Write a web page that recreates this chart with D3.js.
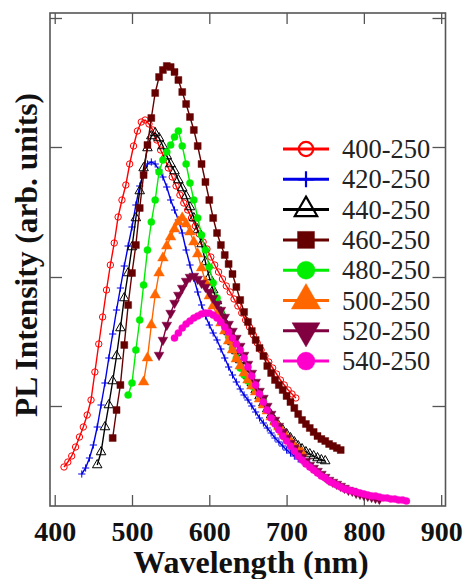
<!DOCTYPE html>
<html>
<head>
<meta charset="utf-8">
<script src="https://cdn.jsdelivr.net/npm/d3@7"></script>
<style>
  body { margin: 0; background: #fff; }
  svg { display: block; }
</style>
</head>
<body>
<svg id="chart" width="467" height="579"></svg>
<script>
// excitation-emission labels, one series per label
const seriesNames = ['400-250', '420-250', '440-250', '460-250', '480-250', '500-250', '520-250', '540-250']
const seriesColors = ['#ff0000', '#0000e6', '#000000', '#660000', '#00ee00', '#ff6600', '#800040', '#ff00cc']
const seriesMarkers = ['circleOpen', 'plus', 'triangleOpen', 'square', 'circle', 'triangle', 'triangleDown', 'circle']
// first wavelength of each scan (nm), sampled every 5 nm
const seriesStart = [412, 435, 455, 475, 495, 515, 535, 555]
const wlStep = 5

// PL intensity (arb. units)
const pl400 = [39, 44, 50, 59, 69, 79, 91, 106, 134, 162, 189, 216, 241, 263, 289, 306, 321, 342, 360, 375,
  384, 386, 382, 376, 366, 356, 348, 338, 329, 320, 311, 303, 296, 288, 280, 272, 264, 257, 249, 241,
  234, 227, 220, 214, 207, 200, 193, 186, 179, 171, 163, 156, 150, 144, 138, 132, 126, 121, 116, 112, 108]
const pl420 = [32, 38, 48, 61, 79, 101, 123, 148, 172, 196, 218, 240, 260, 279, 301, 320, 333, 342, 344, 342,
  336, 329, 319, 306, 296, 286, 273, 256, 241, 228, 214, 201, 190, 181, 173, 166, 157, 148, 139, 131,
  124, 117, 111, 106, 100, 94, 88, 83, 78, 73, 68, 64, 60, 56, 53, 50, 47, 45, 43, 42]
const pl440 = [41, 54, 79, 101, 125, 150, 178, 208, 233, 259, 288, 315, 338, 358, 370, 373, 368, 360, 350, 342,
  335, 326, 318, 310, 299, 288, 276, 262, 244, 229, 216, 205, 194, 184, 174, 164, 155, 146, 138, 130,
  123, 116, 110, 103, 97, 91, 85, 80, 76, 72, 68, 64, 60, 57, 54, 52, 50, 48, 46, 45]
const pl460 = [68, 96, 121, 161, 201, 233, 261, 298, 331, 361, 388, 413, 429, 436, 440, 439, 434, 426, 414, 402,
  389, 376, 360, 342, 324, 306, 288, 273, 261, 251, 242, 232, 219, 206, 194, 184, 175, 166, 158, 150,
  140, 133, 126, 121, 116, 110, 104, 98, 92, 86, 82, 78, 74, 70, 67, 65, 62, 60, 58, 56]
const pl480 = [111, 123, 156, 186, 221, 256, 284, 306, 334, 346, 354, 361, 369, 375, 360, 342, 323, 306, 288, 271,
  256, 239, 223, 208, 194, 181, 169, 158, 148, 138, 131, 125, 120, 115, 111, 106]
const pl500 = [124, 148, 181, 211, 233, 248, 260, 269, 277, 284, 288, 282, 274, 264, 252, 238, 224, 210, 200, 191,
  183, 175, 165, 156, 147, 140, 133, 126, 120, 114, 107, 101, 95, 89, 84, 79, 74, 69, 65, 60, 56, 53]
const pl520 = [151, 166, 181, 193, 203, 211, 218, 225, 229, 230, 227, 223, 219, 214, 208, 202, 196, 189, 182, 175,
  168, 160, 151, 142, 133, 124, 115, 108, 100, 92, 86, 80, 74, 68, 63, 58, 53, 49, 45, 41,
  38, 35, 32, 29, 26, 24, 22, 20, 18, 16, 15, 13, 12, 11, 10, 9, 8, 7]
const pl540 = [168, 173, 178, 182, 185, 188, 190, 192, 193, 193, 191, 188, 184, 179, 174, 168, 162, 156, 148, 139,
  130, 121, 112, 104, 96, 88, 82, 76, 70, 65, 60, 55, 50, 46, 42, 39, 36, 33, 30, 28,
  25, 23, 21, 19, 17, 16, 15, 14, 13, 12, 11, 10, 10, 9, 8, 8, 7, 7, 6, 6, 5]

const xTicks = [400, 500, 600, 700, 800, 900]
const yTicks = [100, 229, 359, 488]

const allValues = [pl400, pl420, pl440, pl460, pl480, pl500, pl520, pl540]

const width = 467
const height = 579
const margin = { top: 13, right: 21.5, bottom: 73, left: 50 }
const serif = '"Liberation Serif", "Times New Roman", serif'
const frameColor = '#555'

const series = allValues.map((vals, k) => ({
  name: seriesNames[k],
  color: seriesColors[k],
  marker: seriesMarkers[k],
  points: vals.map((v, i) => ({ wl: seriesStart[k] + i * wlStep, v }))
}))

const svg = d3.select('#chart')

const x = d3.scaleLinear()
  .domain([393.9, 905.6])
  .range([margin.left, width - margin.right])

const y = d3.scaleLinear()
  .domain([0, 493])
  .range([height - margin.bottom, margin.top])

// marker shapes, s = rough size in px
function markerPath (kind, s) {
  if (kind === 'plus') return `M${-s},0H${s}M0,${-s}V${s}`
  if (kind === 'square') return d3.symbol(d3.symbolSquare, s * s * 4)()
  if (kind === 'triangle' || kind === 'triangleOpen' || kind === 'triangleDown') {
    return d3.symbol(d3.symbolTriangle, s * s * 3.4)()
  }
  return d3.symbol(d3.symbolCircle, Math.PI * s * s)()
}

function drawMarker (sel, kind, color, s, sw) {
  const open = kind === 'circleOpen' || kind === 'triangleOpen' || kind === 'plus'
  sel.append('path')
    .attr('d', markerPath(kind, s))
    .attr('transform', kind === 'triangleDown' ? 'rotate(180)' : null)
    .attr('fill', open ? 'none' : color)
    .attr('stroke', color)
    .attr('stroke-width', open ? sw : 0.4)
}

function styleTicks (g) {
  g.select('.domain').remove()
  g.selectAll('line').attr('stroke', frameColor).attr('stroke-width', 1.3)
}

// ticks (inside the frame on all four sides)
svg.append('g')
  .attr('transform', `translate(0,${height - margin.bottom})`)
  .call(d3.axisBottom(x).tickValues(xTicks).tickSize(-11).tickPadding(15).tickFormat(d3.format('d')))
  .call(styleTicks)
  .attr('font-family', serif)
  .attr('font-size', 28)
  .attr('font-weight', 'bold')
  .call(g => g.selectAll('text').attr('fill', '#111'))

svg.append('g')
  .attr('transform', `translate(0,${margin.top})`)
  .call(d3.axisTop(x).tickValues(xTicks).tickSize(-11).tickFormat(''))
  .call(styleTicks)

svg.append('g')
  .attr('transform', `translate(${margin.left},0)`)
  .call(d3.axisLeft(y).tickValues(yTicks).tickSize(-12).tickFormat(''))
  .call(styleTicks)

svg.append('g')
  .attr('transform', `translate(${width - margin.right},0)`)
  .call(d3.axisRight(y).tickValues(yTicks).tickSize(-13).tickFormat(''))
  .call(styleTicks)

// frame
svg.append('rect')
  .attr('x', margin.left)
  .attr('y', margin.top)
  .attr('width', width - margin.left - margin.right)
  .attr('height', height - margin.top - margin.bottom)
  .attr('fill', 'none')
  .attr('stroke', frameColor)
  .attr('stroke-width', 1.6)

// curves
const line = d3.line()
  .x(d => x(d.wl))
  .y(d => y(d.v))

const curveSize = { circleOpen: 3.2, plus: 3.6, triangleOpen: 3.4, square: 3.5, circle: 3.6, triangle: 3.8, triangleDown: 3.5 }

series.forEach(s => {
  const g = svg.append('g')
  g.append('path')
    .datum(s.points)
    .attr('d', line)
    .attr('fill', 'none')
    .attr('stroke', s.color)
    .attr('stroke-width', 1.4)
  g.selectAll('g.pt')
    .data(s.points)
    .join('g')
    .attr('class', 'pt')
    .attr('transform', d => `translate(${x(d.wl)},${y(d.v)})`)
    .each(function () {
      drawMarker(d3.select(this), s.marker, s.color, curveSize[s.marker], 1)
    })
})

// legend
const legendSize = { circleOpen: 7.2, plus: 8, triangleOpen: 8, square: 8.5, circle: 9, triangle: 10.5, triangleDown: 10 }
const legend = svg.append('g')
series.forEach((s, i) => {
  const row = legend.append('g').attr('transform', `translate(306,${149 + i * 30.3})`)
  row.append('line')
    .attr('x1', -23).attr('x2', 23)
    .attr('stroke', s.color)
    .attr('stroke-width', 3)
  drawMarker(row, s.marker, s.color, legendSize[s.marker], 2.2)
  row.append('text')
    .attr('x', 36)
    .attr('y', 9)
    .attr('fill', '#222')
    .attr('font-family', serif)
    .attr('font-size', 26.5)
    .text(s.name)
})

// axis titles
svg.append('text')
  .attr('x', 251)
  .attr('y', 573)
  .attr('text-anchor', 'middle')
  .attr('fill', '#111')
  .attr('font-family', serif)
  .attr('font-weight', 'bold')
  .attr('font-size', 32)
  .text('Wavelength (nm)')

svg.append('text')
  .attr('transform', 'translate(37,255) rotate(-90)')
  .attr('text-anchor', 'middle')
  .attr('fill', '#111')
  .attr('font-family', serif)
  .attr('font-weight', 'bold')
  .attr('font-size', 31.5)
  .text('PL Intensity (arb. units)')
</script>
</body>
</html>
